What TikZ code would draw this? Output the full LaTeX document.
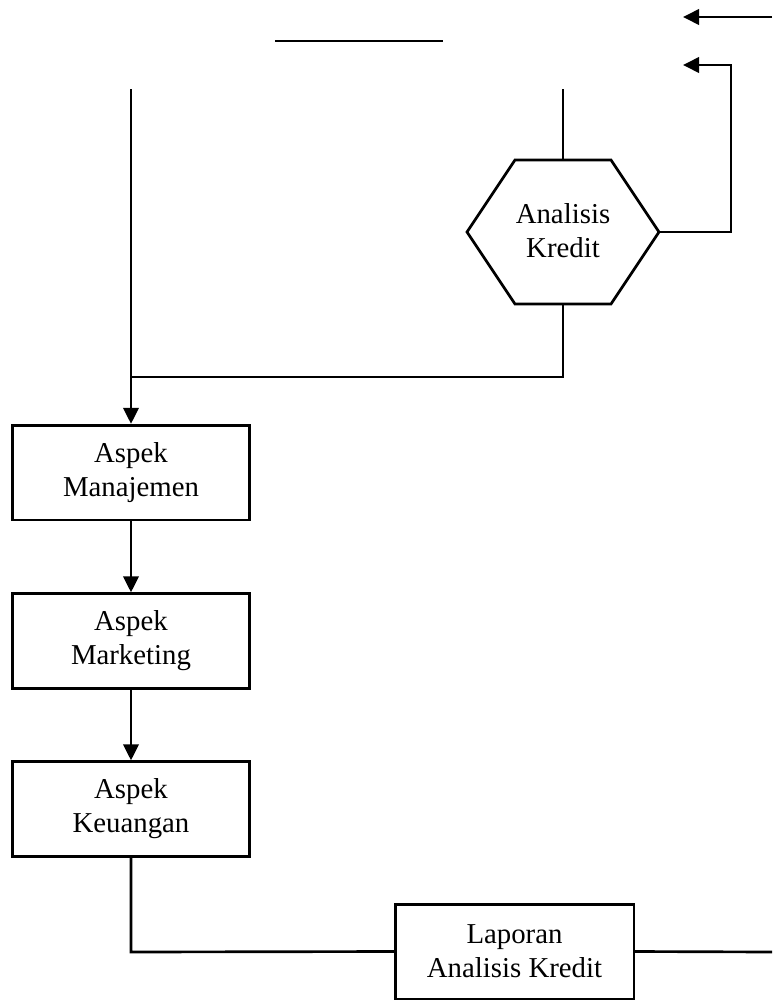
\documentclass[tikz,border=0pt]{standalone}
\usepackage{fontspec}
\setmainfont{Liberation Serif}
\usetikzlibrary{arrows.meta}
\begin{document}
\begin{tikzpicture}[x=0.75pt,y=-0.75pt,
  line width=2pt,
  conn/.style={line width=2pt},
  arr/.style={conn,-{Triangle[length=12pt,width=11.5pt]}},
  box/.style={draw,rectangle,line width=2pt,minimum width=178pt,minimum height=71pt,inner sep=0pt,align=center,font=\fontsize{21.6}{25.5}\selectfont},
  lbl/.style={inner sep=0pt,align=center,font=\fontsize{21.6}{25.5}\selectfont}]
\useasboundingbox (0,0) rectangle (772,1000);
% hexagon
\coordinate (hexT) at (563,160);
\coordinate (hexB) at (563,304);
\coordinate (hexR) at (659,232);
\draw[line width=2pt,line join=miter] (515,160) -- (611,160) -- (659,232) -- (611,304) -- (515,304) -- (467,232) -- cycle;
\node[lbl] (ak) at (563,231) {Analisis\\Kredit};
% boxes
\node[box] (b1) at (131,472.5) {Aspek\\Manajemen};
\node[box] (b2) at (131,641) {Aspek\\Marketing};
\node[box] (b3) at (131,809) {Aspek\\Keuangan};
\node[box,minimum width=179pt] (lap) at (514.5,951.5) {Laporan\\Analisis Kredit};
% coordinates
\coordinate (t1s) at (772,17);
\coordinate (t1e) at (683,17);
\coordinate (t2e) at (683,65);
\coordinate (t2c) at (731,65);
\coordinate (t2r) at (731,232);
\coordinate (hl1) at (275,41);
\coordinate (hl2) at (443,41);
\coordinate (lv) at (131,89);
\coordinate (rv) at (563,89);
\coordinate (j1) at (563,377);
\coordinate (j2) at (131,377);
\coordinate (bl) at (131,952);
\coordinate (br) at (772,952);
% connectors
\draw[arr] (t1s) -- (t1e);
\draw[arr] (hexR) -- (t2r) -- (t2c) -- (t2e);
\draw[conn] (hl1) -- (hl2);
\draw[arr] (lv) -- (b1.north);
\draw[conn] (rv) -- (hexT);
\draw[conn] (hexB) -- (j1) -- (j2);
\draw[arr] (b1) -- (b2);
\draw[arr] (b2) -- (b3);
\draw[conn] (b3.south) -- (bl) -- (lap.west);
\draw[conn] (lap.east) -- (br);
\end{tikzpicture}
\end{document}
